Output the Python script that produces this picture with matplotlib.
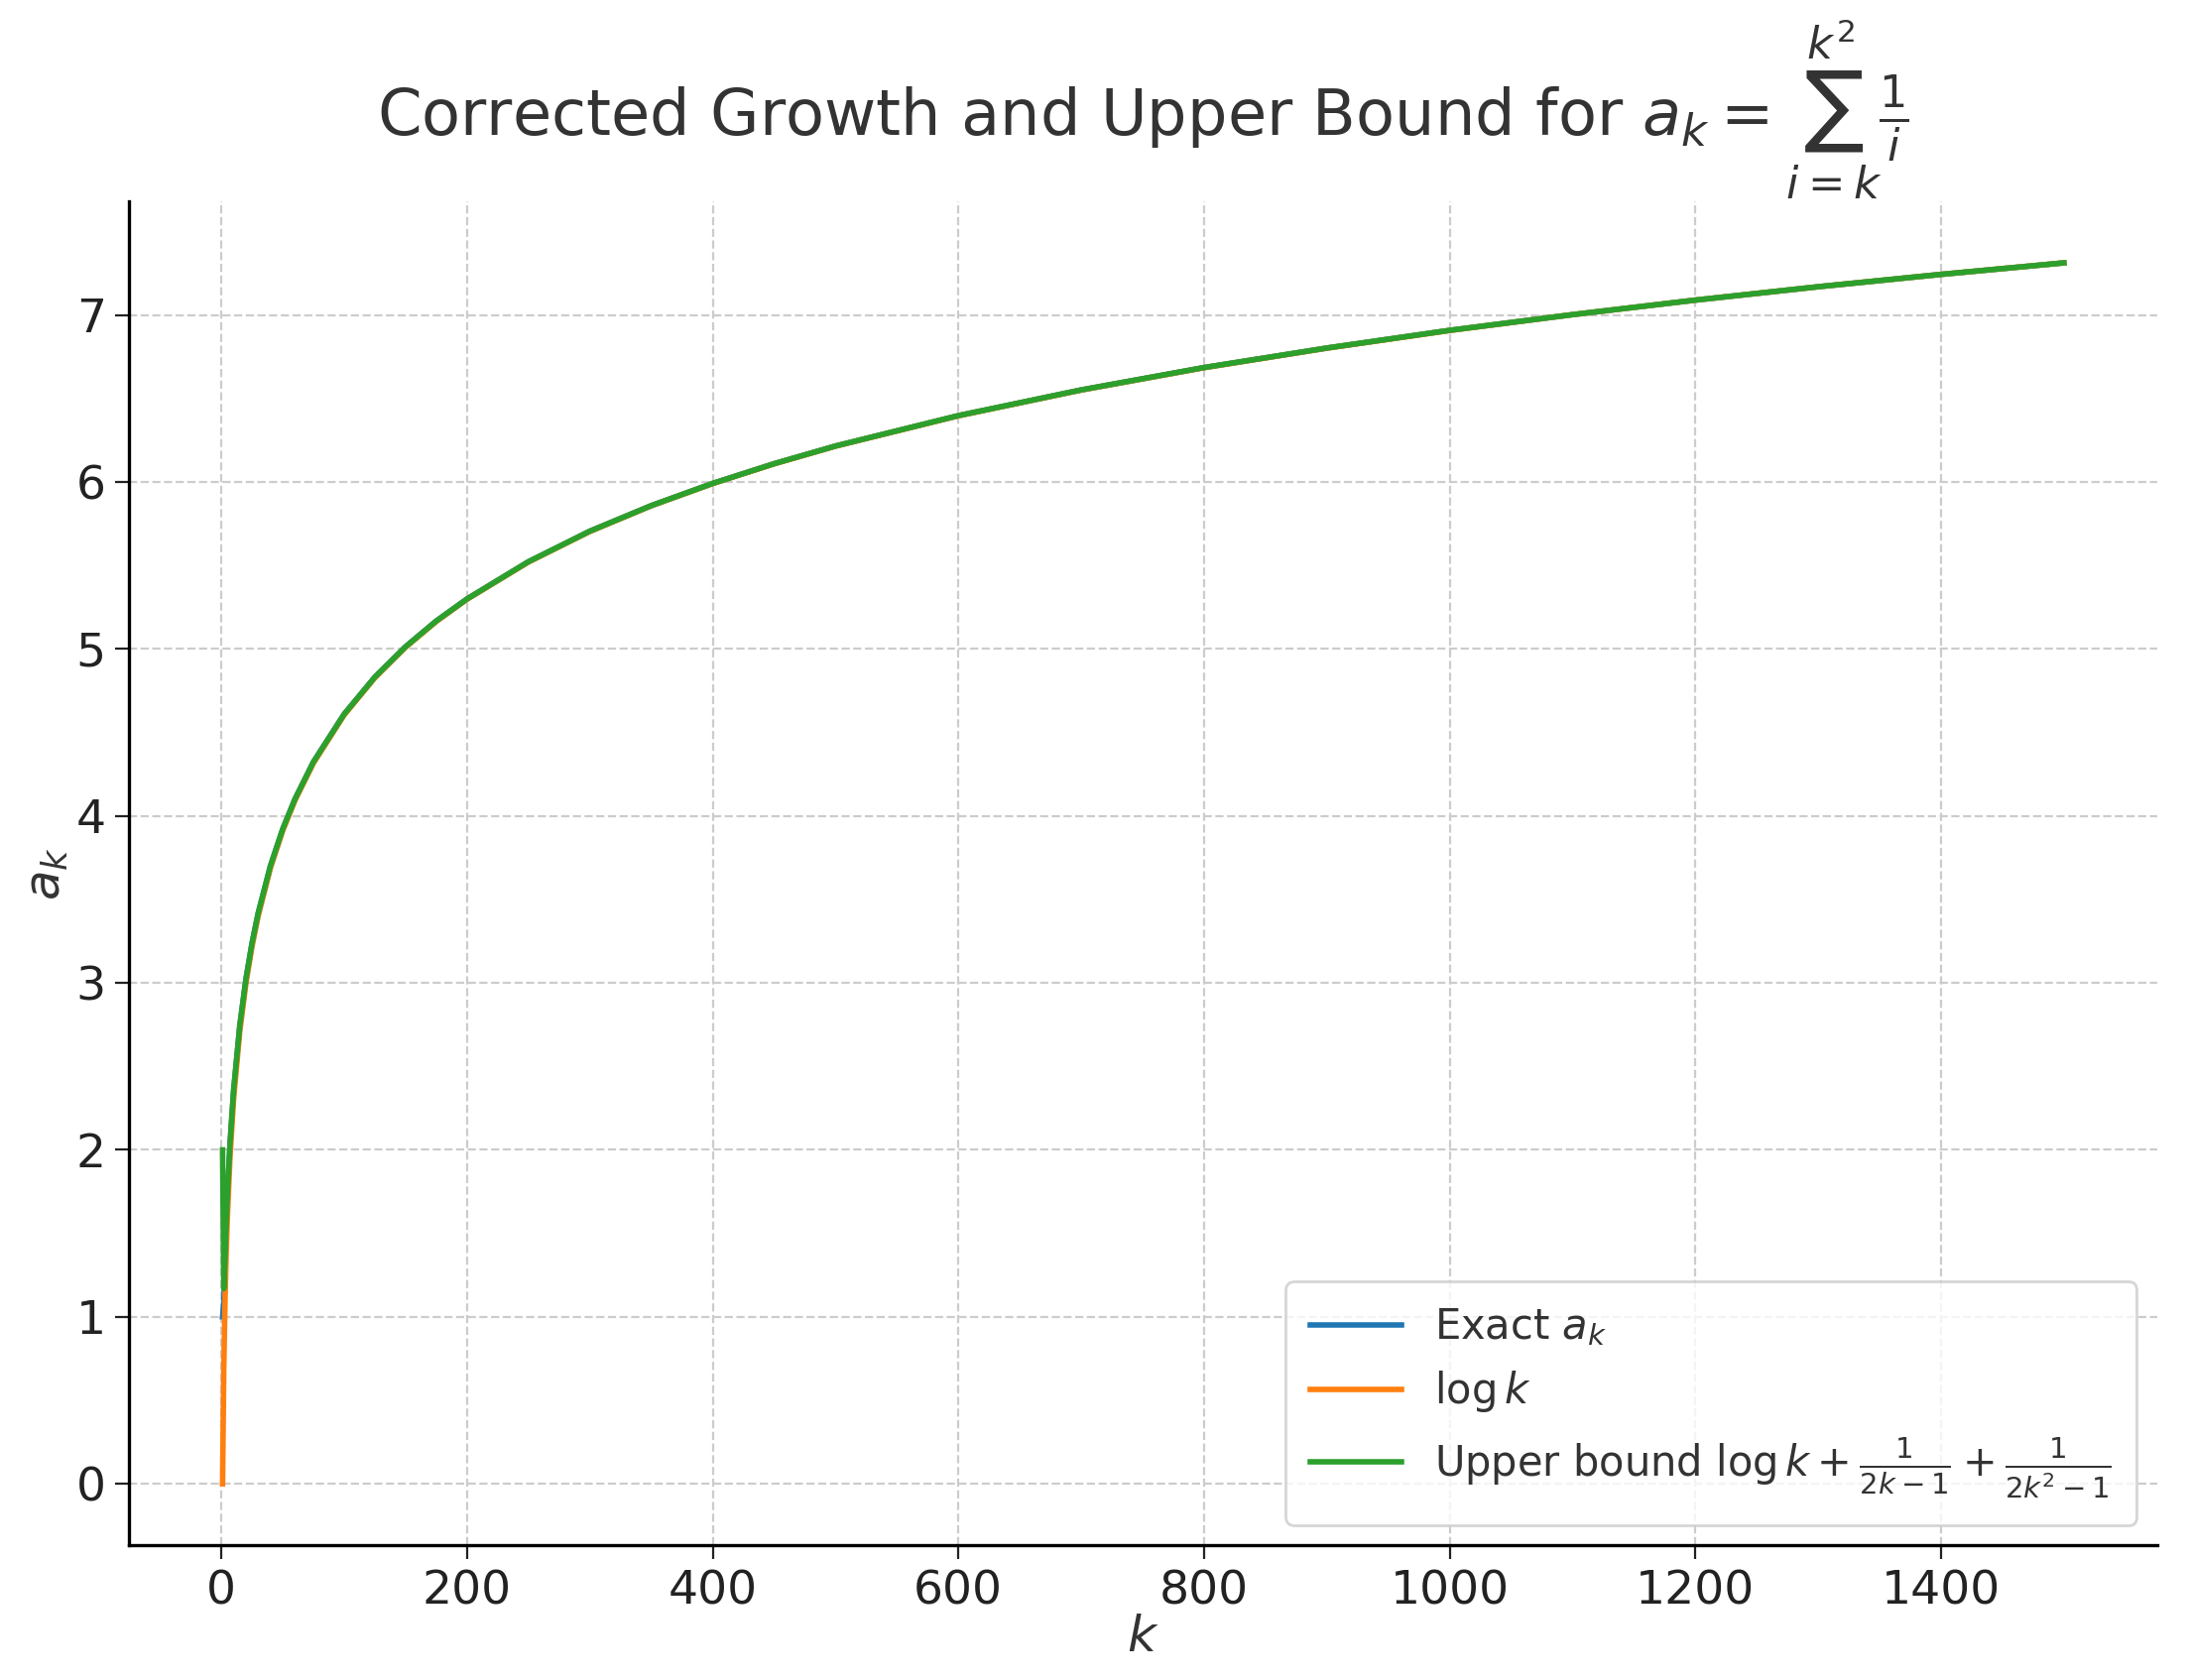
import matplotlib
matplotlib.use("Agg")
import matplotlib.pyplot as plt

k_vals = [1, 2, 3, 4, 5, 7, 10, 15, 20, 25, 30, 40, 50, 60, 75, 100, 125, 150, 175, 200, 250, 300, 350, 400, 450, 500, 600, 700, 800, 900, 1000, 1100, 1200, 1300, 1400, 1500]
log_k = [0.0, 0.693, 1.099, 1.386, 1.609, 1.946, 2.303, 2.708, 2.996, 3.219, 3.401, 3.689, 3.912, 4.094, 4.317, 4.605, 4.828, 5.011, 5.165, 5.298, 5.521, 5.704, 5.858, 5.991, 6.109, 6.215, 6.397, 6.551, 6.685, 6.802, 6.908, 7.003, 7.090, 7.170, 7.244, 7.313]
exact_a = [1.0, 1.083, 1.329, 1.52, 1.73, 2.02, 2.35, 2.74, 3.02, 3.238, 3.417, 3.701, 3.922, 4.102, 4.324, 4.610, 4.832, 5.014, 5.168, 5.300, 5.523, 5.706, 5.859, 5.992, 6.110, 6.216, 6.398, 6.552, 6.686, 6.803, 6.909, 7.003, 7.090, 7.170, 7.244, 7.313]
upper = [2.0, 1.169, 1.358, 1.561, 1.74, 2.033, 2.361, 2.744, 3.022, 3.239, 3.418, 3.702, 3.922, 4.102, 4.324, 4.610, 4.832, 5.014, 5.168, 5.300, 5.523, 5.706, 5.859, 5.992, 6.110, 6.216, 6.398, 6.552, 6.686, 6.803, 6.909, 7.003, 7.090, 7.170, 7.244, 7.313]

fig = plt.figure(figsize=(11.04, 8.47), dpi=200)
ax = fig.add_axes([0.059, 0.08, 0.926, 0.80])
ax.plot(k_vals, exact_a, color="#1f77b4", lw=2, label=r"Exact $a_k$")
ax.plot(k_vals, log_k, color="#ff7f0e", lw=2, label=r"$\log k$")
ax.plot(k_vals, upper, color="#2ca02c", lw=2,
        label=r"Upper bound $\log k + \frac{1}{2k-1} + \frac{1}{2k^2-1}$")
ax.set_xlim(-75, 1576)
ax.set_ylim(-0.37, 7.68)
ax.set_xticks(range(0, 1401, 200))
ax.set_yticks(range(0, 8))
ax.grid(True, ls="--", color="#cccccc", lw=0.8)
for s in ["top", "right"]:
    ax.spines[s].set_visible(False)
ax.spines["left"].set_linewidth(1.2)
ax.spines["bottom"].set_linewidth(1.2)
ax.tick_params(labelsize=17, length=5, colors="#222222")
ax.set_xlabel(r"$k$", fontsize=18, color="#333333", labelpad=0)
ax.set_ylabel(r"$a_k$", fontsize=18, color="#333333", labelpad=2)
ax.set_title(r"Corrected Growth and Upper Bound for $a_k = \sum_{i=k}^{k^2}\frac{1}{i}$",
             fontsize=23, color="#333333", pad=12)
leg = ax.legend(loc="lower right", fontsize=15, framealpha=0.8, edgecolor="#cccccc",
                borderpad=0.6, handlelength=2.2)
for t in leg.get_texts():
    t.set_color("#333333")
fig.savefig("out.png", dpi=200)
